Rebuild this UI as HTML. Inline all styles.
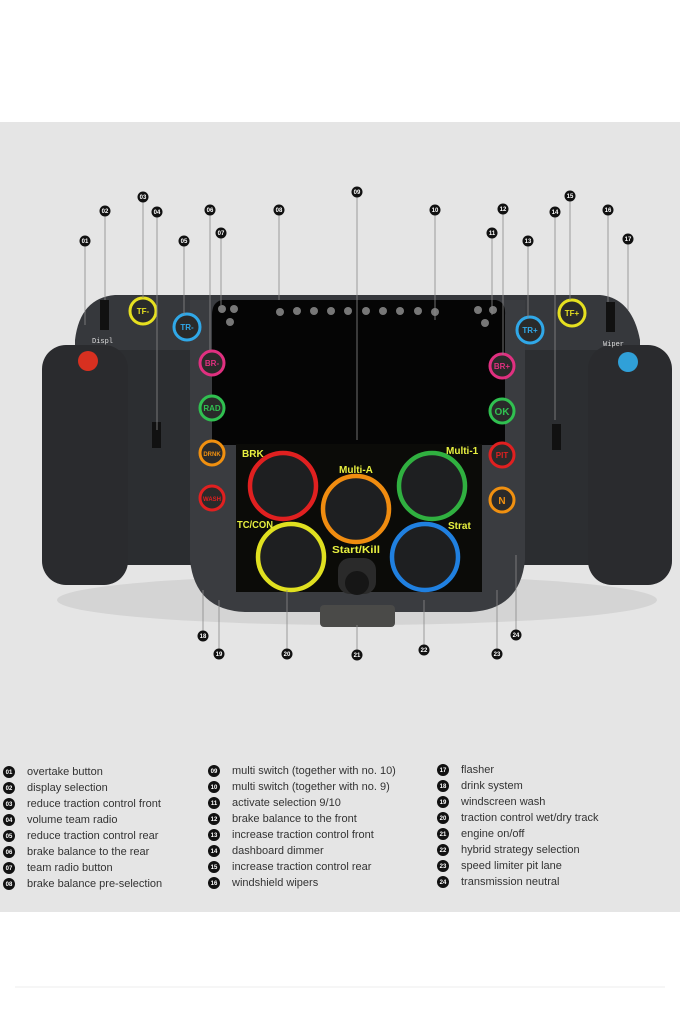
<!DOCTYPE html>
<html><head><meta charset="utf-8"><style>
body{margin:0;background:#fff;}
svg{display:block}
.m{fill:#111}
.mt{fill:#fff;font:bold 6px "Liberation Sans",sans-serif;text-anchor:middle}
.lg{fill:#333;font:11px "Liberation Sans",sans-serif}
.bt{font:bold 8px "Liberation Sans",sans-serif;text-anchor:middle}
.dl{fill:#e8f040;font:bold 10px "Liberation Sans",sans-serif}
</style></head><body>
<svg width="680" height="1020" viewBox="0 0 680 1020" xmlns="http://www.w3.org/2000/svg">
<rect x="0" y="0" width="680" height="1020" fill="#fff"/>
<rect x="0" y="122" width="680" height="790" fill="#e5e5e5"/>
<line x1="15" y1="987" x2="665" y2="987" stroke="#eee" stroke-width="1"/>
<ellipse cx="357" cy="600" rx="300" ry="25" fill="#d4d4d4"/>
<rect x="140" y="345" width="50" height="190" rx="10" fill="#d8d6d0"/>
<rect x="525" y="345" width="50" height="190" rx="10" fill="#d8d6d0"/>
<rect x="95" y="525" width="530" height="40" rx="12" fill="#2b2d30"/>
<path d="M75 340 Q80 298 115 295 L600 295 Q632 298 640 340 L640 360 L75 360 Z" fill="#36383c"/>
<path d="M110 350 L200 350 L200 530 L110 530 Z" fill="#2c2e31"/>
<path d="M515 350 L605 350 L605 530 L515 530 Z" fill="#2c2e31"/>
<rect x="42" y="345" width="86" height="240" rx="24" fill="#2a2b2e"/>
<rect x="588" y="345" width="84" height="240" rx="24" fill="#2a2b2e"/>
<path d="M190 300 L525 300 L525 560 Q520 610 470 612 L245 612 Q195 610 190 560 Z" fill="#3a3c40"/>
<rect x="320" y="605" width="75" height="22" rx="4" fill="#4a4a48"/>
<path d="M222 300 L496 300 Q506 302 505 315 L505 445 L212 445 L212 315 Q212 302 222 300 Z" fill="#050505"/>
<g fill="#777">
<circle cx="222" cy="309" r="4"/><circle cx="234" cy="309" r="4"/><circle cx="230" cy="322" r="4"/>
<circle cx="280" cy="312" r="4"/><circle cx="297" cy="311" r="4"/><circle cx="314" cy="311" r="4"/><circle cx="331" cy="311" r="4"/><circle cx="348" cy="311" r="4"/><circle cx="366" cy="311" r="4"/><circle cx="383" cy="311" r="4"/><circle cx="400" cy="311" r="4"/><circle cx="418" cy="311" r="4"/><circle cx="435" cy="312" r="4"/>
<circle cx="478" cy="310" r="4"/><circle cx="493" cy="310" r="4"/><circle cx="485" cy="323" r="4"/>
</g>
<rect x="236" y="444" width="246" height="148" fill="#0b0b08"/>
<g stroke-width="4.5" fill="#1e1f21">
<circle cx="283" cy="486" r="33" stroke="#e02020"/>
<circle cx="356" cy="509" r="33" stroke="#f08c10"/>
<circle cx="432" cy="486" r="33" stroke="#30b040"/>
<circle cx="291" cy="557" r="33" stroke="#e0e020"/>
<circle cx="425" cy="557" r="33" stroke="#2080e0"/>
</g>
<text class="dl" x="242" y="457">BRK</text>
<text class="dl" x="446" y="454">Multi-1</text>
<text class="dl" x="339" y="473">Multi-A</text>
<text class="dl" x="237" y="528" textLength="36" lengthAdjust="spacingAndGlyphs">TC/CON</text>
<text class="dl" x="448" y="529">Strat</text>
<text class="dl" x="332" y="553" textLength="48" lengthAdjust="spacingAndGlyphs">Start/Kill</text>
<rect x="338" y="558" width="38" height="36" rx="12" fill="#2a2a2a"/>
<circle cx="357" cy="583" r="12" fill="#161616"/>
<g stroke-width="3">
<circle cx="143" cy="311" r="13" fill="#2a2a2a" stroke="#e6e020"/>
<circle cx="187" cy="327" r="13" fill="#2a2a2a" stroke="#30a8e8"/>
<circle cx="530" cy="330" r="13" fill="#2a2a2a" stroke="#30a8e8"/>
<circle cx="572" cy="313" r="13" fill="#2a2a2a" stroke="#e6e020"/>
<circle cx="212" cy="363" r="12" fill="#2a2a2a" stroke="#e03080"/>
<circle cx="212" cy="408" r="12" fill="#2a2a2a" stroke="#30c050"/>
<circle cx="212" cy="453" r="12" fill="#2a2a2a" stroke="#f09010"/>
<circle cx="212" cy="498" r="12" fill="#2a2a2a" stroke="#e02020"/>
<circle cx="502" cy="366" r="12" fill="#2a2a2a" stroke="#e03080"/>
<circle cx="502" cy="411" r="12" fill="#2a2a2a" stroke="#30c050"/>
<circle cx="502" cy="455" r="12" fill="#2a2a2a" stroke="#e02020"/>
<circle cx="502" cy="500" r="12" fill="#2a2a2a" stroke="#f09010"/>
</g>
<text class="bt" x="143" y="314" fill="#e6e020">TF-</text>
<text class="bt" x="187" y="330" fill="#30a8e8">TR-</text>
<text class="bt" x="530" y="333" fill="#30a8e8">TR+</text>
<text class="bt" x="572" y="316" fill="#e6e020">TF+</text>
<text class="bt" x="212" y="366" fill="#e03080">BR-</text>
<text class="bt" x="212" y="411" fill="#30c050">RAD</text>
<text class="bt" x="212" y="456" fill="#f09010" style="font-size:6px">DRNK</text>
<text class="bt" x="212" y="501" fill="#e02020" style="font-size:6px">WASH</text>
<text class="bt" x="502" y="369" fill="#e03080">BR+</text>
<text class="bt" x="502" y="415" fill="#30c050" style="font-size:10px">OK</text>
<text class="bt" x="502" y="458" fill="#e02020">PIT</text>
<text class="bt" x="502" y="504" fill="#f09010" style="font-size:10px">N</text>
<circle cx="88" cy="361" r="10" fill="#d83020"/>
<circle cx="628" cy="362" r="10" fill="#30a0d8"/>
<text x="92" y="343" fill="#ddd" font-size="7" font-family="Liberation Mono">Displ</text>
<text x="603" y="346" fill="#ddd" font-size="7" font-family="Liberation Mono">Wiper</text>
<rect x="100" y="300" width="9" height="30" fill="#111"/>
<rect x="606" y="302" width="9" height="30" fill="#111"/>
<rect x="152" y="422" width="9" height="26" fill="#111"/>
<rect x="552" y="424" width="9" height="26" fill="#111"/>
<g stroke="#8a8a8a" stroke-width="0.8">
<line x1="85" y1="246" x2="85" y2="325"/><line x1="105" y1="216" x2="105" y2="300"/>
<line x1="143" y1="202" x2="143" y2="298"/><line x1="157" y1="217" x2="157" y2="430"/>
<line x1="184" y1="246" x2="184" y2="315"/><line x1="210" y1="215" x2="210" y2="350"/>
<line x1="221" y1="238" x2="221" y2="305"/><line x1="279" y1="215" x2="279" y2="300"/>
<line x1="357" y1="197" x2="357" y2="440"/><line x1="435" y1="215" x2="435" y2="320"/>
<line x1="492" y1="238" x2="492" y2="315"/><line x1="503" y1="214" x2="503" y2="355"/>
<line x1="528" y1="246" x2="528" y2="318"/><line x1="555" y1="217" x2="555" y2="420"/>
<line x1="570" y1="201" x2="570" y2="300"/><line x1="608" y1="215" x2="608" y2="302"/>
<line x1="628" y1="244" x2="628" y2="310"/>
<line x1="203" y1="631" x2="203" y2="590"/><line x1="219" y1="649" x2="219" y2="600"/>
<line x1="287" y1="649" x2="287" y2="590"/><line x1="357" y1="650" x2="357" y2="625"/>
<line x1="424" y1="645" x2="424" y2="600"/><line x1="497" y1="649" x2="497" y2="590"/>
<line x1="516" y1="630" x2="516" y2="555"/>
</g>
<g>
<circle class="m" cx="85" cy="241" r="5.5"/><text class="mt" x="85" y="243">01</text>
<circle class="m" cx="105" cy="211" r="5.5"/><text class="mt" x="105" y="213">02</text>
<circle class="m" cx="143" cy="197" r="5.5"/><text class="mt" x="143" y="199">03</text>
<circle class="m" cx="157" cy="212" r="5.5"/><text class="mt" x="157" y="214">04</text>
<circle class="m" cx="184" cy="241" r="5.5"/><text class="mt" x="184" y="243">05</text>
<circle class="m" cx="210" cy="210" r="5.5"/><text class="mt" x="210" y="212">06</text>
<circle class="m" cx="221" cy="233" r="5.5"/><text class="mt" x="221" y="235">07</text>
<circle class="m" cx="279" cy="210" r="5.5"/><text class="mt" x="279" y="212">08</text>
<circle class="m" cx="357" cy="192" r="5.5"/><text class="mt" x="357" y="194">09</text>
<circle class="m" cx="435" cy="210" r="5.5"/><text class="mt" x="435" y="212">10</text>
<circle class="m" cx="492" cy="233" r="5.5"/><text class="mt" x="492" y="235">11</text>
<circle class="m" cx="503" cy="209" r="5.5"/><text class="mt" x="503" y="211">12</text>
<circle class="m" cx="528" cy="241" r="5.5"/><text class="mt" x="528" y="243">13</text>
<circle class="m" cx="555" cy="212" r="5.5"/><text class="mt" x="555" y="214">14</text>
<circle class="m" cx="570" cy="196" r="5.5"/><text class="mt" x="570" y="198">15</text>
<circle class="m" cx="608" cy="210" r="5.5"/><text class="mt" x="608" y="212">16</text>
<circle class="m" cx="628" cy="239" r="5.5"/><text class="mt" x="628" y="241">17</text>
<circle class="m" cx="203" cy="636" r="5.5"/><text class="mt" x="203" y="638">18</text>
<circle class="m" cx="219" cy="654" r="5.5"/><text class="mt" x="219" y="656">19</text>
<circle class="m" cx="287" cy="654" r="5.5"/><text class="mt" x="287" y="656">20</text>
<circle class="m" cx="357" cy="655" r="5.5"/><text class="mt" x="357" y="657">21</text>
<circle class="m" cx="424" cy="650" r="5.5"/><text class="mt" x="424" y="652">22</text>
<circle class="m" cx="497" cy="654" r="5.5"/><text class="mt" x="497" y="656">23</text>
<circle class="m" cx="516" cy="635" r="5.5"/><text class="mt" x="516" y="637">24</text>
</g>
<g>
<circle class="m" cx="9" cy="772" r="6"/><text class="mt" x="9" y="774">01</text><text class="lg" x="27" y="775">overtake button</text>
<circle class="m" cx="9" cy="788" r="6"/><text class="mt" x="9" y="790">02</text><text class="lg" x="27" y="791">display selection</text>
<circle class="m" cx="9" cy="804" r="6"/><text class="mt" x="9" y="806">03</text><text class="lg" x="27" y="807">reduce traction control front</text>
<circle class="m" cx="9" cy="820" r="6"/><text class="mt" x="9" y="822">04</text><text class="lg" x="27" y="823">volume team radio</text>
<circle class="m" cx="9" cy="836" r="6"/><text class="mt" x="9" y="838">05</text><text class="lg" x="27" y="839">reduce traction control rear</text>
<circle class="m" cx="9" cy="852" r="6"/><text class="mt" x="9" y="854">06</text><text class="lg" x="27" y="855">brake balance to the rear</text>
<circle class="m" cx="9" cy="868" r="6"/><text class="mt" x="9" y="870">07</text><text class="lg" x="27" y="871">team radio button</text>
<circle class="m" cx="9" cy="884" r="6"/><text class="mt" x="9" y="886">08</text><text class="lg" x="27" y="887">brake balance pre-selection</text>
<circle class="m" cx="214" cy="771" r="6"/><text class="mt" x="214" y="773">09</text><text class="lg" x="232" y="774">multi switch (together with no. 10)</text>
<circle class="m" cx="214" cy="787" r="6"/><text class="mt" x="214" y="789">10</text><text class="lg" x="232" y="790">multi switch (together with no. 9)</text>
<circle class="m" cx="214" cy="803" r="6"/><text class="mt" x="214" y="805">11</text><text class="lg" x="232" y="806">activate selection 9/10</text>
<circle class="m" cx="214" cy="819" r="6"/><text class="mt" x="214" y="821">12</text><text class="lg" x="232" y="822">brake balance to the front</text>
<circle class="m" cx="214" cy="835" r="6"/><text class="mt" x="214" y="837">13</text><text class="lg" x="232" y="838">increase traction control front</text>
<circle class="m" cx="214" cy="851" r="6"/><text class="mt" x="214" y="853">14</text><text class="lg" x="232" y="854">dashboard dimmer</text>
<circle class="m" cx="214" cy="867" r="6"/><text class="mt" x="214" y="869">15</text><text class="lg" x="232" y="870">increase traction control rear</text>
<circle class="m" cx="214" cy="883" r="6"/><text class="mt" x="214" y="885">16</text><text class="lg" x="232" y="886">windshield wipers</text>
<circle class="m" cx="443" cy="770" r="6"/><text class="mt" x="443" y="772">17</text><text class="lg" x="461" y="773">flasher</text>
<circle class="m" cx="443" cy="786" r="6"/><text class="mt" x="443" y="788">18</text><text class="lg" x="461" y="789">drink system</text>
<circle class="m" cx="443" cy="802" r="6"/><text class="mt" x="443" y="804">19</text><text class="lg" x="461" y="805">windscreen wash</text>
<circle class="m" cx="443" cy="818" r="6"/><text class="mt" x="443" y="820">20</text><text class="lg" x="461" y="821">traction control wet/dry track</text>
<circle class="m" cx="443" cy="834" r="6"/><text class="mt" x="443" y="836">21</text><text class="lg" x="461" y="837">engine on/off</text>
<circle class="m" cx="443" cy="850" r="6"/><text class="mt" x="443" y="852">22</text><text class="lg" x="461" y="853">hybrid strategy selection</text>
<circle class="m" cx="443" cy="866" r="6"/><text class="mt" x="443" y="868">23</text><text class="lg" x="461" y="869">speed limiter pit lane</text>
<circle class="m" cx="443" cy="882" r="6"/><text class="mt" x="443" y="884">24</text><text class="lg" x="461" y="885">transmission neutral</text>
</g>
</svg>
</body></html>
